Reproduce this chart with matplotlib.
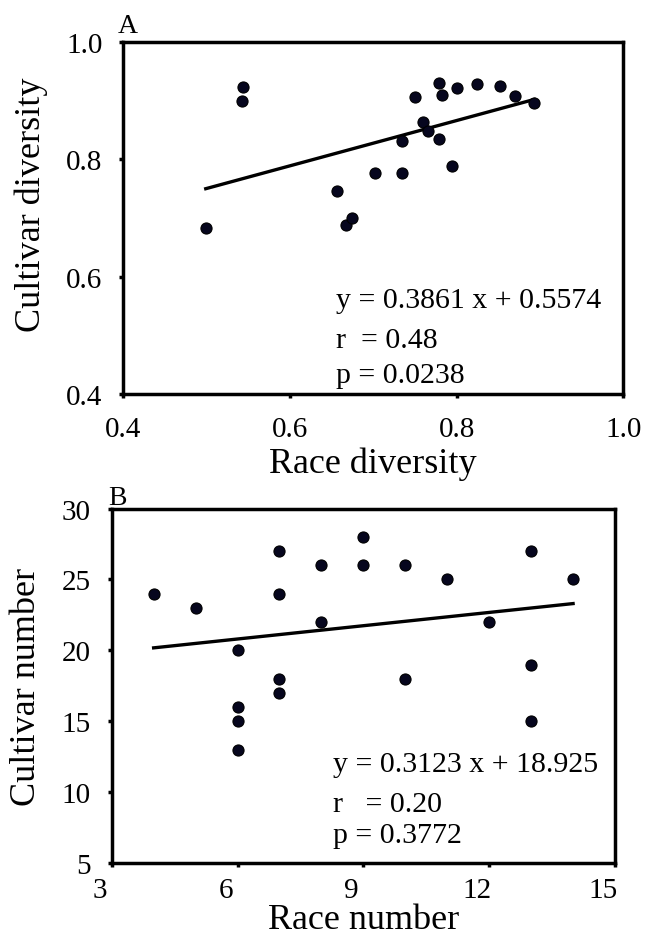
import numpy as np
from matplotlib import pyplot as plt
from matplotlib.transforms import ScaledTranslation

plt.rcParams["font.family"] = ["Liberation Serif", "DejaVu Serif"]

# panel A: race diversity vs cultivar diversity
raceDiv = [0.499, 0.544, 0.542, 0.657, 0.667, 0.675, 0.702, 0.735, 0.735, 0.750, 0.760,
           0.766, 0.779, 0.779, 0.782, 0.795, 0.801, 0.825, 0.852, 0.870, 0.893]
cultDiv = [0.683, 0.923, 0.899, 0.747, 0.689, 0.700, 0.777, 0.777, 0.832, 0.907, 0.863,
           0.848, 0.835, 0.930, 0.910, 0.789, 0.921, 0.929, 0.926, 0.908, 0.896]
slopeA, interA = 0.3861, 0.5574
statsA = ["y = 0.3861 x + 0.5574", "r  = 0.48", "p = 0.0238"]

# panel B: race number vs cultivar number
raceNum = [4, 5, 6, 6, 6, 6, 7, 7, 7, 7, 8, 8, 9, 9, 10, 10, 11, 12, 13, 13, 13, 14]
cultNum = [24, 23, 20, 16, 15, 13, 27, 24, 18, 17, 26, 22, 28, 26, 26, 18, 25, 22, 27, 19, 15, 25]
slopeB, interB = 0.3123, 18.925
statsB = ["y = 0.3123 x + 18.925", "r   = 0.20", "p = 0.3772"]

ticksA = [0.4, 0.6, 0.8, 1.0]
ticksBx = [3, 6, 9, 12, 15]
ticksBy = [5, 10, 15, 20, 25, 30]

dotColor = "#06061e"


def styleAxes(ax, xpad):
    for s in ax.spines.values():
        s.set_linewidth(2.5)
    ax.tick_params(direction="out", length=3, width=2.5, labelsize=21, pad=12)
    ax.tick_params(axis="x", pad=xpad)


def drawPanel(ax, x, y, slope, inter, stats, textPos, linePos):
    ax.plot(x, y, "o", ms=8, mfc=dotColor, mec="black", mew=0.8, zorder=3)
    xl = np.array([min(x), max(x)])
    ax.plot(xl, slope * xl + inter, color="black", lw=2.4, zorder=2)
    for s, yy in zip(stats, linePos):
        ax.text(textPos, yy, s, transform=ax.transAxes, fontsize=21.5, va="baseline")


fig = plt.figure(figsize=(6.52, 9.37), dpi=100)

axA = fig.add_axes([0.189, 0.5784, 0.767, 0.3756])
drawPanel(axA, raceDiv, cultDiv, slopeA, interA, statsA, 0.425, [0.247, 0.134, 0.034])
axA.set_xlim(0.4, 1.0)
axA.set_ylim(0.4, 1.0)
axA.set_xticks(ticksA)
axA.set_yticks(ticksA)
axA.set_xticklabels(["%.1f" % t for t in ticksA])
axA.set_yticklabels(["%.1f" % t for t in ticksA])
styleAxes(axA, 13)
axA.set_xlabel("Race diversity", fontsize=26, labelpad=3)
axA.set_ylabel("Cultivar diversity", fontsize=26)
axA.yaxis.set_label_coords(-0.15, 0.54)

axB = fig.add_axes([0.1713, 0.0779, 0.772, 0.3783])
drawPanel(axB, raceNum, cultNum, slopeB, interB, statsB, 0.439, [0.259, 0.147, 0.059])
axB.set_xlim(3, 15)
axB.set_ylim(5, 30)
axB.set_xticks(ticksBx)
axB.set_yticks(ticksBy)
styleAxes(axB, 7)
# x labels in panel B sit a bit left of their ticks
shift = ScaledTranslation(-0.12, 0, fig.dpi_scale_trans)
for lab in axB.get_xticklabels():
    lab.set_transform(lab.get_transform() + shift)
axB.set_xlabel("Race number", fontsize=26, labelpad=0)
axB.set_ylabel("Cultivar number", fontsize=26)
axB.yaxis.set_label_coords(-0.137, 0.5)

fig.text(118 / 652, 1 - 33 / 937, "A", fontsize=20, va="baseline")
fig.text(108 / 652, 1 - 505 / 937, "B", fontsize=20, va="baseline")

fig.savefig("out.png", dpi=100)
